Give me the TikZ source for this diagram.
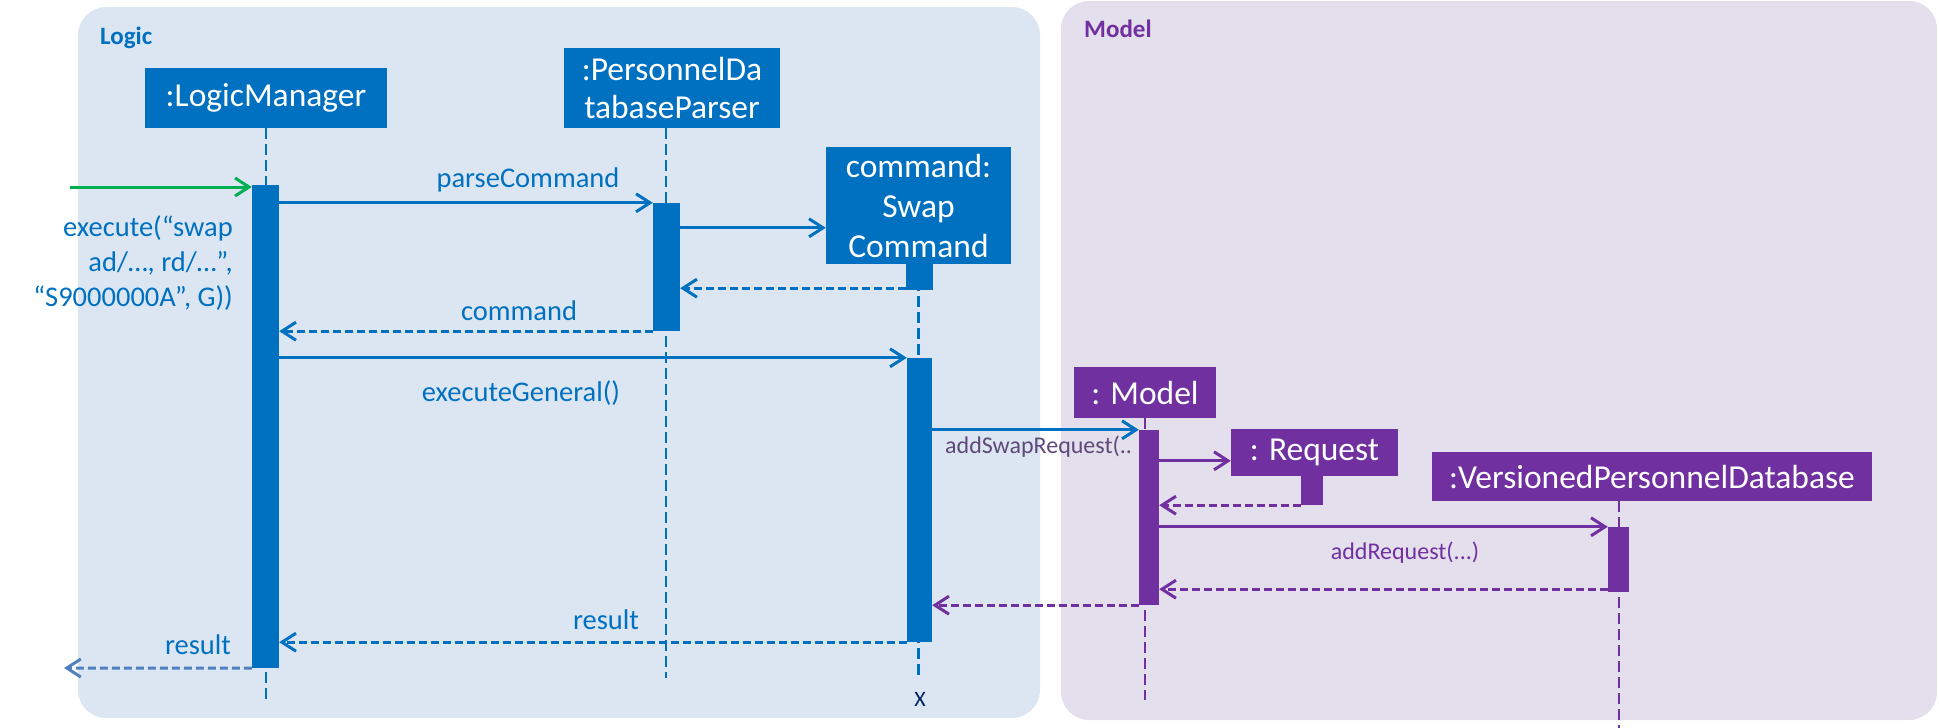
\documentclass[tikz,border=0pt]{standalone}
\usepackage{fontspec}
\setmainfont{Carlito}
\usetikzlibrary{arrows.meta}

\definecolor{logicblue}{HTML}{0070C0}
\definecolor{logicbg}{HTML}{DCE6F2}
\definecolor{modelpurple}{HTML}{7030A0}
\definecolor{modelbg}{HTML}{E4DFEC}
\definecolor{entrygreen}{HTML}{00B050}
\definecolor{greypurple}{HTML}{5F497A}
\definecolor{exitblue}{HTML}{4F81BD}
\definecolor{navy}{HTML}{002060}

\begin{document}
\begin{tikzpicture}[x=1pt,y=-1pt,
	obj/.style={fill=logicblue,text=white,inner sep=0pt,align=center,font=\fontsize{33.5}{38}\selectfont},
	mobj/.style={obj,fill=modelpurple},
	act/.style={fill=logicblue,inner sep=0pt,minimum width=27pt},
	mact/.style={act,fill=modelpurple,minimum width=21pt},
	life/.style={logicblue,line width=2.5pt,dash pattern=on 11pt off 5pt},
	mlife/.style={life,modelpurple},
	msg/.style={logicblue,line width=3pt,-{Straight Barb[length=14pt,width=18pt]}},
	ret/.style={msg,dash pattern=on 8pt off 4pt},
	mmsg/.style={msg,modelpurple},
	mret/.style={ret,modelpurple},
	lbl/.style={text=logicblue,inner sep=0pt,font=\fontsize{28.5}{35}\selectfont},
	mlbl/.style={lbl,text=modelpurple,font=\fontsize{24}{28}\selectfont}]
	\useasboundingbox (0,0) rectangle (1939,728);

	% frames
	\fill[logicbg,rounded corners=28pt] (78,7) rectangle (1040,718);
	\fill[modelbg,rounded corners=28pt] (1061,1) rectangle (1937,720);
	\node[anchor=west,inner sep=0pt,text=logicblue,font=\bfseries\fontsize{25}{30}\selectfont] (logicLbl) at (100,38) {Logic};
	\node[anchor=west,inner sep=0pt,text=modelpurple,font=\bfseries\fontsize{25}{30}\selectfont] (modelLbl) at (1084,29) {Model};

	% participants
	\node[obj,minimum width=242pt,minimum height=60pt] (lm) at (266,98) {:LogicManager};
	\node[obj,minimum width=216pt,minimum height=80pt] (pdp) at (672,88) {:PersonnelDa\\tabaseParser};
	\node[obj,minimum width=185pt,minimum height=117pt,font=\fontsize{33.5}{40}\selectfont] (sc) at (918.5,205.5) {command:\\Swap\\Command};
	\node[mobj,minimum width=142pt,minimum height=51pt] (mdl) at (1145,392.5) {: Model};
	\node[mobj,minimum width=167pt,minimum height=47pt] (req) at (1314.5,452.5) {: Request};
	\node[mobj,minimum width=440pt,minimum height=49pt] (vpd) at (1652,476.5) {:VersionedPersonnelDatabase};

	% lifelines
	\draw[life] (lm.south) -- ++(0,572);
	\draw[life] ([xshift=-6pt]pdp.south) -- ++(0,550);
	\draw[life] (sc.south) -- ++(0,414);
	\draw[mlife] (mdl.south) -- ++(0,282);
	\draw[mlife] ([xshift=-33pt]vpd.south) -- ++(0,230);
	\node[inner sep=0pt,text=navy,font=\fontsize{22}{26}\selectfont] (scEnd) at (920,699) {X};

	% activations
	\node[act,minimum height=483pt] (lmAct) at (265.5,426.5) {};
	\node[act,minimum height=128pt] (pdpAct) at (666.5,267) {};
	\node[act,minimum height=26pt] (scAct0) at (919.5,277) {};
	\node[act,minimum width=25pt,minimum height=284pt] (scAct) at (919.5,500) {};
	\node[mact,minimum width=20pt,minimum height=175pt] (mdlAct) at (1149,517.5) {};
	\node[mact,minimum width=22pt,minimum height=29pt] (reqAct) at (1312,490.5) {};
	\node[mact,minimum height=65pt] (vpdAct) at (1618.5,559.5) {};

	% messages
	\coordinate (entry) at (70,187);
	\draw[msg,entrygreen] (entry) -- (entry -| lmAct.west);
	\node[lbl,anchor=east,align=right] (execLbl) at (233,263) {execute(“swap\\ad/…, rd/…”,\\“S9000000A”, G))};
	\draw[msg] (lmAct.east |- pdpAct.north) -- (pdpAct.north west);
	\node[lbl] (parseLbl) at (528,180) {parseCommand};
	\coordinate (create) at ([yshift=-25pt]pdpAct.north east);
	\draw[msg] (create) -- (create -| sc.west);
	\coordinate (back) at ([yshift=2pt]scAct0.south west);
	\draw[ret] (back) -- (back -| pdpAct.east);
	\draw[ret] (pdpAct.south west) -- (pdpAct.south west -| lmAct.east);
	\node[lbl] (cmdLbl) at (519,311) {command};
	\draw[msg] (lmAct.east |- scAct.north) -- (scAct.north west);
	\node[lbl] (execGenLbl) at (521,393) {executeGeneral()};
	\draw[msg] (scAct.east |- mdlAct.north) -- (mdlAct.north west);
	\node[mlbl,text=greypurple,anchor=west] (swapReqLbl) at (945,447) {addSwapRequest(..};
	\coordinate (newReq) at ([yshift=-31pt]mdlAct.north east);
	\draw[mmsg] (newReq) -- (newReq -| req.west);
	\draw[mret] (reqAct.south west) -- (reqAct.south west -| mdlAct.east);
	\draw[mmsg] (mdlAct.east |- vpdAct.north) -- (vpdAct.north west);
	\node[mlbl] (addReqLbl) at (1405,553) {addRequest(...)};
	\coordinate (vpdBack) at ([yshift=3pt]vpdAct.south west);
	\draw[mret] (vpdBack) -- (vpdBack -| mdlAct.east);
	\draw[mret] (mdlAct.south west) -- (mdlAct.south west -| scAct.east);
	\draw[ret] (scAct.south west) -- (scAct.south west -| lmAct.east);
	\node[lbl] (resLbl) at (606,620) {result};
	\coordinate (exit) at (64,668);
	\draw[ret,exitblue] (lmAct.south west) -- (exit);
	\node[lbl] (outLbl) at (198,645) {result};
\end{tikzpicture}
\end{document}
